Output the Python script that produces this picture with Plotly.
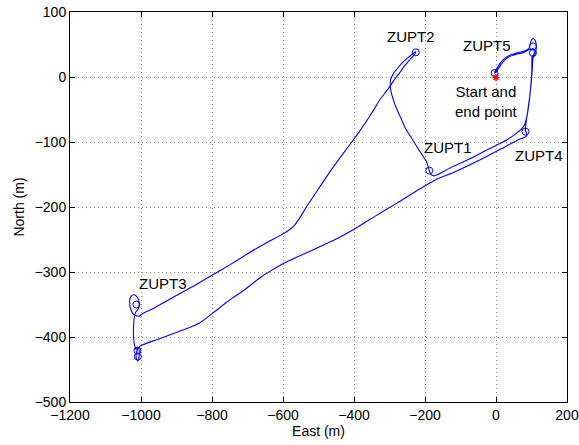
import plotly.graph_objects as go

# Trajectory (East, North) in metres
east = [-4, 0, 7, 14, 21, 30, 40, 52, 64, 75, 85, 93,
        97, 100, 105, 110, 113, 113, 111, 106, 102, 101,
        101, 98, 93, 87, 80, 72, 59, 30, -25, -70, -120, -150, -163, -177, -184, -188,
        -190, -196, -208, -222, -240, -256, -268, -279, -288, -295, -298, -296, -288,
        -275, -260, -245, -232, -226,
        -230, -242, -258, -272, -285, -298, -312, -327, -345, -365, -385, -402, -435,
        -468, -500, -533, -552, -566, -582, -599, -650, -703, -750, -806, -850, -890,
        -929, -965, -995, -1006,
        -1015, -1023, -1030, -1032, -1029, -1022, -1013, -1007, -1005, -1009, -1015,
        -1019, -1021, -1021, -1018, -1014,
        -1012, -1007, -1005, -1006, -1009, -1013, -1013, -1008, -1003,
        -995, -960, -929, -880, -834, -790, -760, -740, -710, -684, -660, -637,
        -599, -560, -524, -460, -402, -340, -279, -214, -166, -120, -25, 30, 69,
        80, 87, 86, 83,
        83, 86, 90, 95, 99, 102, 104, 106,
        108, 107, 103, 100, 93, 85, 75, 64, 52, 40, 28, 18, 8, 0, -4]
north = [6, 11, 17, 23, 27, 31, 34, 36, 38, 39, 41, 44,
         52, 57, 59, 57, 51, 43, 36, 31, 33, 25,
         11, -14, -40, -61, -74, -80, -86, -97, -112, -125, -137.5, -146, -150, -152, -149, -144,
         -140, -130, -120, -108, -92, -78, -63, -50, -37, -24, -12, -3, 6,
         15, 24, 31, 37, 39,
         34, 27, 17, 6, -3, -14, -24, -35, -51, -68, -84, -97, -121,
         -146, -172, -199, -216, -227, -235, -241, -256, -273, -289, -307, -321, -333,
         -345, -356, -364, -368,
         -367, -364, -355, -345, -338, -335, -337, -343, -351, -358, -362,
         -370, -385, -400, -413, -419,
         -418, -416, -422, -432, -437, -433, -424, -417, -414,
         -412, -405, -399, -389, -378, -360, -347, -339, -328, -317, -307, -299,
         -287, -277, -268, -252, -235, -214, -194, -172, -157, -147, -122, -106, -95,
         -93, -90, -86, -83,
         -78, -65, -50, -30, -10, 10, 28, 34,
         38, 42, 44, 42, 42, 40, 37, 36, 34, 32, 28, 22, 14, 8, 6]

# ZUPT marker positions
zupt_east = [-4, 104, 104, 83, -188, -226, -1013, -1010, -1009]
zupt_north = [6, 47, 37, -84, -144, 38, -350, -421, -430]

# Start / end point
start_east = [0]
start_north = [-1]

# Labels
label_text = ["ZUPT2", "ZUPT5", "Start and<br>end point", "ZUPT1", "ZUPT4", "ZUPT3"]
label_east = [-240, -24, -27, -134, 122, -937]
label_north = [63, 49, -37, -109, -121, -318]

x_ticks = [-1200, -1000, -800, -600, -400, -200, 0, 200]
y_ticks = [-500, -400, -300, -200, -100, 0, 100]

fig = go.Figure()
fig.add_trace(go.Scatter(x=east, y=north, mode="lines",
                         line=dict(color="#0000ff", width=1.1, shape="spline", smoothing=0.6),
                         hoverinfo="skip"))
fig.add_trace(go.Scatter(x=zupt_east, y=zupt_north, mode="markers",
                         marker=dict(symbol="circle-open", size=7, color="#0000ff",
                                     line=dict(width=1, color="#0000ff"))))
fig.add_trace(go.Scatter(x=start_east, y=start_north, mode="markers",
                         marker=dict(symbol="asterisk-open", size=6, color="#ff0000",
                                     line=dict(width=1.2, color="#ff0000"))))

for t, xv, yv in zip(label_text, label_east, label_north):
    fig.add_annotation(x=xv, y=yv, text=t, showarrow=False,
                       font=dict(size=15, color="black", family="Liberation Sans"),
                       xanchor="center", yanchor="middle")

axis_common = dict(showline=True, linecolor="black", linewidth=1, mirror="ticks",
                   ticks="inside", ticklen=5, tickcolor="black", automargin=False,
                   showgrid=True, gridcolor="rgba(0,0,0,0.45)", griddash="1px,3px", gridwidth=1,
                   zeroline=False, tickfont=dict(size=14, color="black", family="Liberation Sans"))

fig.update_xaxes(range=[-1200, 200], tickvals=x_ticks,
                 title=dict(text="East (m)", standoff=4,
                            font=dict(size=14, color="black", family="Liberation Sans")),
                 **axis_common)
fig.update_yaxes(range=[-500, 100], tickvals=y_ticks,
                 title=dict(text="North (m)", standoff=6,
                            font=dict(size=14, color="black", family="Liberation Sans")),
                 **axis_common)

fig.update_layout(width=579, height=445, showlegend=False,
                  margin=dict(l=70, r=12, t=12, b=43),
                  plot_bgcolor="white", paper_bgcolor="white",
                  font=dict(family="Liberation Sans"))

fig.write_html("out.html")
